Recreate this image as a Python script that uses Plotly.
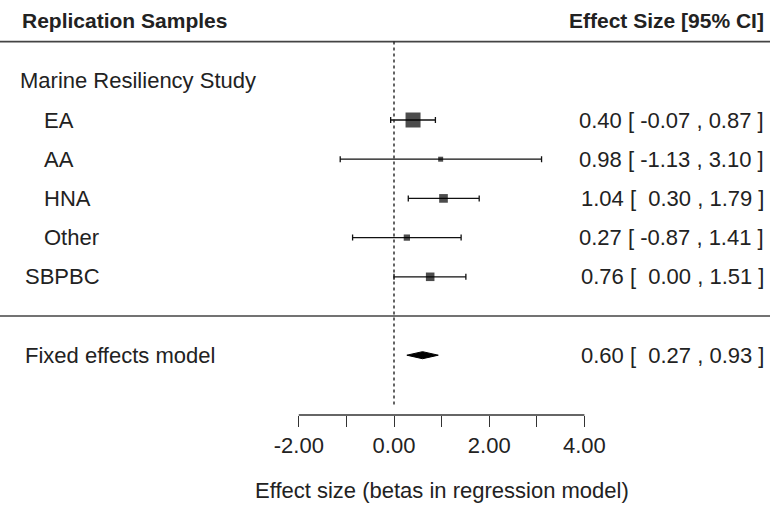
import plotly.graph_objects as go

# ---- data ----
group_title = "Marine Resiliency Study"
labels = ["EA", "AA", "HNA", "Other", "SBPBC"]
estimates = [0.40, 0.98, 1.04, 0.27, 0.76]
ci_lower = [-0.07, -1.13, 0.30, -0.87, 0.00]
ci_upper = [0.87, 3.10, 1.79, 1.41, 1.51]
pooled_label = "Fixed effects model"
pooled = [0.60, 0.27, 0.93]  # estimate, lower, upper
tick_values = [-2, -1, 0, 1, 2, 3, 4]
tick_labels = ["-2.00", "", "0.00", "", "2.00", "", "4.00"]
header_left = "Replication Samples"
header_right = "Effect Size [95% CI]"
x_title = "Effect size (betas in regression model)"

# ---- layout constants (styling) ----
W, H = 770, 506
FONT = "Liberation Sans, Arial, Helvetica, sans-serif"
TXT = "#222222"
FS = 22
study_rows = [1, 2, 3, 4, 5]
indent = [True, True, True, True, False]
pooled_row = 7

# marker sizes from inverse-variance weights (metafor-style scaling)
se = [(u - l) / 3.92 for l, u in zip(ci_lower, ci_upper)]
w = [1 / s ** 2 for s in se]
wmin, wmax = min(w), max(w)
psize = [(wi - wmin) / (wmax - wmin) + 0.5 for wi in w]
msize = [10 * p for p in psize]

fig = go.Figure()

fig.add_trace(go.Scatter(
    x=estimates, y=study_rows, mode="markers",
    marker=dict(symbol="square", size=msize, color="#000000", line=dict(width=0)),
    error_x=dict(type="data", symmetric=False,
                 array=[u - e for u, e in zip(ci_upper, estimates)],
                 arrayminus=[e - l for e, l in zip(estimates, ci_lower)],
                 width=3, thickness=1.3, color="#111111"),
    hoverinfo="skip", cliponaxis=False,
))

h = 0.09
pe, pl, pu = pooled
fig.add_trace(go.Scatter(
    x=[pl, pe, pu, pe, pl], y=[pooled_row, pooled_row - h, pooled_row, pooled_row + h, pooled_row],
    mode="lines", fill="toself", fillcolor="#000000",
    line=dict(color="#000000", width=1), hoverinfo="skip",
))

shapes = []
for yy in [-1, 6]:
    shapes.append(dict(type="line", xref="paper", x0=0, x1=1, yref="y", y0=yy, y1=yy,
                       line=dict(color="#444444", width=1.6)))
shapes.append(dict(type="line", xref="x", x0=0, x1=0, yref="y", y0=-1, y1=8.32,
                   line=dict(color="#222222", width=1.4, dash="dot")))
shapes.append(dict(type="line", xref="x", x0=min(tick_values), x1=max(tick_values),
                   yref="paper", y0=0, y1=0, line=dict(color="#333333", width=1.3)))

ann = []
def lab(text, xpx, y, anchor="left", bold=False):
    t = f"<b>{text}</b>" if bold else text
    ann.append(dict(text=t, xref="paper", x=xpx / W, yref="y", y=y, xanchor=anchor,
                    yanchor="middle", showarrow=False,
                    font=dict(family=FONT, size=21 if bold else FS, color=TXT)))

lab(header_left, 20, -1.55, bold=True)
lab(header_right, 766, -1.55, anchor="right", bold=True)
lab(group_title, 18, 0)
for lbl, r, ind in zip(labels, study_rows, indent):
    lab(lbl, 42 if ind else 23, r)
lab(pooled_label, 23, pooled_row)

def fmt(e, l, u):
    s = f"{e:.2f} [{l:6.2f} , {u:.2f} ]"
    return s.replace(" ", "\u00a0")

for e, l, u, r in zip(estimates, ci_lower, ci_upper, study_rows):
    lab(fmt(e, l, u), 766, r, anchor="right")
lab(fmt(pe, pl, pu), 766, pooled_row, anchor="right")

ann.append(dict(text=x_title, xref="x", x=1, yref="paper", y=-(490 - 415) / 415,
                xanchor="center", yanchor="middle", showarrow=False,
                font=dict(family=FONT, size=FS, color=TXT)))

x0_px = 394.0
ppu = 47.6
fig.update_layout(
    width=W, height=H,
    margin=dict(l=0, r=0, t=0, b=91),
    paper_bgcolor="white", plot_bgcolor="white",
    showlegend=False,
    shapes=shapes, annotations=ann,
    xaxis=dict(range=[-x0_px / ppu, (W - x0_px) / ppu], showgrid=False, zeroline=False,
               showline=False, ticks="outside", ticklen=11, tickwidth=1.3, tickcolor="#333333",
               tickmode="array", tickvals=tick_values, ticktext=tick_labels,
               tickfont=dict(family=FONT, size=FS, color=TXT), fixedrange=True),
    yaxis=dict(range=[(415 - 80.8) / 39.2, (0 - 80.8) / 39.2], visible=False,
               showgrid=False, zeroline=False, fixedrange=True),
)

fig.write_html("out.html", config={"displayModeBar": False},
               post_script="document.body.style.margin='0px';document.body.style.overflow='hidden';")
